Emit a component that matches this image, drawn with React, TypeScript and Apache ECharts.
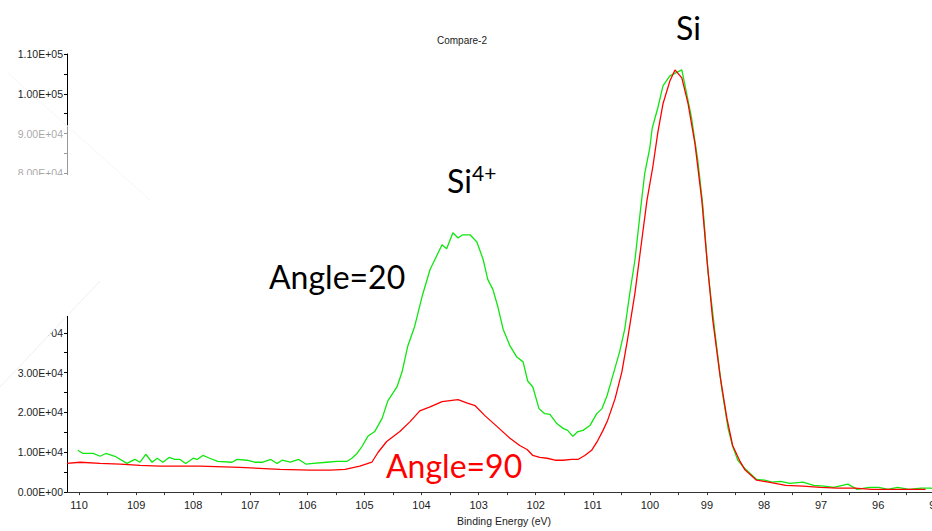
import React, { useEffect, useRef } from "react";
import * as echarts from "echarts";

// Binding energy (eV) and counts for Angle=20 (green)
const greenEnergy = [
  110.02, 109.93, 109.75, 109.63, 109.53, 109.37, 109.16, 109.02, 108.93, 108.83,
  108.72, 108.63, 108.53, 108.42, 108.32, 108.23, 108.13, 108.0, 107.93, 107.83,
  107.71, 107.57, 107.32, 107.23, 107.06, 106.92, 106.78, 106.64, 106.53, 106.44,
  106.3, 106.15, 106.02, 105.9, 105.66, 105.48, 105.31, 105.22, 105.13, 105.04,
  104.94, 104.82, 104.69, 104.59, 104.43, 104.34, 104.24, 104.12, 103.99, 103.85,
  103.64, 103.56, 103.45, 103.36, 103.28, 103.15, 103.03, 102.92, 102.84, 102.75,
  102.66, 102.57, 102.45, 102.33, 102.22, 102.14, 102.05, 101.94, 101.84, 101.75,
  101.63, 101.52, 101.44, 101.35, 101.26, 101.17, 101.05, 100.93, 100.84, 100.75,
  100.65, 100.53, 100.44, 100.35, 100.26, 100.17, 100.09, 100.0, 99.96, 99.86,
  99.77, 99.65, 99.44, 99.39, 99.27, 99.16, 99.07, 98.98, 98.86, 98.74,
  98.63, 98.55, 98.46, 98.34, 98.13, 97.99, 97.86, 97.71, 97.55, 97.32,
  97.13, 96.95, 96.78, 96.53, 96.37, 96.16, 95.99, 95.83, 95.66, 95.46,
  95.25, 95.08, 94.92,
];
const greenCounts = [
  10500, 9700, 9700, 9000, 9700, 9000, 7200, 8200, 7500, 9500,
  7500, 8500, 7500, 8700, 8200, 8200, 7200, 8500, 8200, 9200,
  8500, 7700, 7500, 8200, 8000, 7500, 7500, 8200, 7200, 8000,
  7500, 8200, 7000, 7200, 7500, 7700, 7700, 8500, 9700, 11500,
  14000, 15200, 18500, 22900, 26400, 30200, 36700, 41600, 49100, 55900,
  62100, 61100, 65100, 63800, 64600, 64600, 62800, 58400, 53400, 50900,
  46400, 40900, 36700, 33900, 32700, 27900, 26400, 20900, 19700, 19500,
  17200, 16000, 15500, 14000, 15200, 15500, 16700, 19700, 20900, 24200,
  29200, 35200, 40900, 50100, 58400, 70100, 80000, 86500, 91300, 96500,
  102000, 104500, 106000, 102500, 94000, 83300, 71600, 55100, 40100, 25900,
  16000, 11500, 8000, 6000, 3200, 3000, 2500, 2700, 2200, 2500,
  1700, 1500, 1200, 2000, 700, 1200, 1200, 700, 1200, 700,
  1000, 1000, 500,
];

// Binding energy (eV) and counts for Angle=90 (red)
const redEnergy = [
  110.21, 109.98, 109.63, 109.28, 108.93, 108.58, 107.88, 107.18, 106.48, 105.95,
  105.6, 105.34, 105.08, 104.87, 104.76, 104.61, 104.38, 104.2, 104.03, 103.85,
  103.64, 103.36, 103.21, 103.06, 102.89, 102.68, 102.45, 102.28, 102.15, 102.05,
  101.93, 101.8, 101.66, 101.52, 101.37, 101.26, 101.14, 101.02, 100.91, 100.82,
  100.74, 100.61, 100.49, 100.39, 100.26, 100.17, 100.05, 99.95, 99.86, 99.77,
  99.65, 99.56, 99.44, 99.33, 99.21, 99.09, 99.0, 98.9, 98.77, 98.65,
  98.55, 98.42, 98.34, 98.13, 97.92, 97.62, 97.32, 97.01, 96.71, 96.41,
  96.11, 95.8, 95.5, 95.17,
];
const redCounts = [
  7200, 7500, 7200, 7000, 6700, 6500, 6500, 6200, 5700, 5500,
  5500, 5700, 6500, 7500, 10000, 12700, 15200, 17700, 20400, 21400,
  22700, 23200, 22400, 21700, 19200, 16500, 13500, 11700, 10700, 9200,
  8700, 8500, 8000, 8000, 8200, 8200, 9200, 10500, 13000, 15500,
  18000, 23400, 30200, 38400, 50100, 60100, 73300, 81500, 90300, 97500,
  103200, 106000, 104000, 97500, 87500, 73300, 58400, 43400, 29200, 18500,
  11700, 7700, 5700, 3000, 2500, 1700, 1500, 1200, 1000, 1000,
  700, 700, 700, 700,
];

const xLabelValues = [110, 109, 108, 107, 106, 105, 104, 103, 102, 101, 100, 99, 98, 97, 96, 95];
const xTickValues = [
  110, 109.5, 109, 108.5, 108, 107.5, 107, 106.5, 106, 105.5, 105, 104.5, 104, 103.5, 103,
  102.5, 102, 101.5, 101, 100.5, 100, 99.5, 99, 98.5, 98, 97.5, 97, 96.5, 96, 95.5, 95,
];
const yLabelValues = [0, 10000, 20000, 30000, 40000, 50000, 60000, 70000, 80000, 90000, 100000, 110000];
const yTickValues = [
  0, 5000, 10000, 15000, 20000, 25000, 30000, 35000, 40000, 45000, 50000, 55000,
  60000, 65000, 70000, 75000, 80000, 85000, 90000, 95000, 100000, 105000, 110000,
];

const seriesNames = ["Angle=20", "Angle=90"];

function sci(v: number): string {
  if (v === 0) return "0.00E+00";
  const e = Math.floor(Math.log10(v) + 1e-9);
  const m = v / Math.pow(10, e);
  return m.toFixed(2) + "E+" + String(e).padStart(2, "0");
}

export default function App() {
  const ref = useRef<HTMLDivElement>(null);
  useEffect(() => {
    if (!ref.current) return;
    const chart = echarts.init(ref.current, null, { renderer: "svg" });
    const green = greenEnergy.map((e, i) => [e, greenCounts[i]]);
    const red = redEnergy.map((e, i) => [e, redCounts[i]]);
    const ann = "Lato";
    chart.setOption({
      animation: false,
      backgroundColor: "#ffffff",
      grid: { left: 67, top: 54, right: 19, bottom: 35 },
      xAxis: {
        type: "value",
        inverse: true,
        min: 94.9,
        max: 110.21,
        name: "Binding Energy (eV)",
        nameLocation: "middle",
        nameGap: 21,
        nameTextStyle: { fontFamily: "Liberation Sans", fontSize: 10.5, color: "#222" },
        axisLine: { onZero: false, lineStyle: { color: "#333", width: 1 } },
        axisTick: { customValues: xTickValues, length: 3, lineStyle: { color: "#333" } },
        axisLabel: {
          customValues: xLabelValues,
          margin: 7,
          fontFamily: "Liberation Sans",
          fontSize: 11,
          color: "#222",
          formatter: (v: number) => String(v),
        },
        splitLine: { show: false },
      },
      yAxis: {
        type: "value",
        min: 0,
        max: 110000,
        axisLine: { show: true, lineStyle: { color: "#000", width: 1 } },
        axisTick: { show: true, customValues: yTickValues, length: 3, lineStyle: { color: "#000" } },
        axisLabel: {
          customValues: yLabelValues,
          margin: 4,
          fontFamily: "Liberation Sans",
          fontSize: 10.5,
          color: "#222",
          formatter: (v: number) => sci(v),
        },
        splitLine: { show: false },
      },
      series: [
        {
          name: seriesNames[0],
          type: "line",
          data: green,
          showSymbol: false,
          lineStyle: { color: "#10e610", width: 1.3 },
          itemStyle: { color: "#10e610" },
          z: 3,
        },
        {
          name: seriesNames[1],
          type: "line",
          data: red,
          showSymbol: false,
          lineStyle: { color: "#ff0000", width: 1.3 },
          itemStyle: { color: "#ff0000" },
          z: 4,
        },
      ],
      graphic: [
        // faded / hidden parts of the original left axis
        { type: "rect", z: 100, shape: { x: 0, y: 125, width: 70, height: 50 }, style: { fill: "rgba(255,255,255,0.6)" } },
        { type: "rect", z: 100, shape: { x: 0, y: 175, width: 72, height: 141 }, style: { fill: "#ffffff" } },
        { type: "polygon", z: 100, shape: { points: [[0, 300], [82, 300], [0, 387]] }, style: { fill: "#ffffff" } },
        { type: "line", z: 101, shape: { x1: 0, y1: 387, x2: 100, y2: 281 }, style: { stroke: "#e4e4e4", lineWidth: 0.6 } },
        { type: "line", z: 101, shape: { x1: 8, y1: 73, x2: 150, y2: 200 }, style: { stroke: "#f0f0f0", lineWidth: 0.6 } },
        {
          type: "text", z: 102, x: 462, y: 40,
          style: { text: "Compare-2", fontFamily: "Liberation Sans", fontSize: 10, fill: "#222", align: "center", verticalAlign: "middle" },
        },
        {
          type: "text", z: 102, x: 676, y: 27,
          style: { text: "Si", fontFamily: ann, fontSize: 32, fill: "#000", align: "left", verticalAlign: "middle" },
        },
        {
          type: "text", z: 102, x: 447, y: 180,
          style: { text: "Si", fontFamily: ann, fontSize: 32, fill: "#000", align: "left", verticalAlign: "middle" },
        },
        {
          type: "text", z: 102, x: 472, y: 172,
          style: { text: "4+", fontFamily: ann, fontSize: 21, fill: "#000", align: "left", verticalAlign: "middle" },
        },
        {
          type: "text", z: 102, x: 269, y: 276,
          style: { text: seriesNames[0], fontFamily: ann, fontSize: 32, fill: "#000", align: "left", verticalAlign: "middle" },
        },
        {
          type: "text", z: 102, x: 386, y: 465,
          style: { text: seriesNames[1], fontFamily: ann, fontSize: 32, fill: "#ff0000", align: "left", verticalAlign: "middle" },
        },
      ],
    });
    return () => chart.dispose();
  }, []);
  return (
    <div
      ref={ref}
      style={{ position: "fixed", left: 0, top: 0, width: 960, height: 531, background: "#fff" }}
    />
  );
}
